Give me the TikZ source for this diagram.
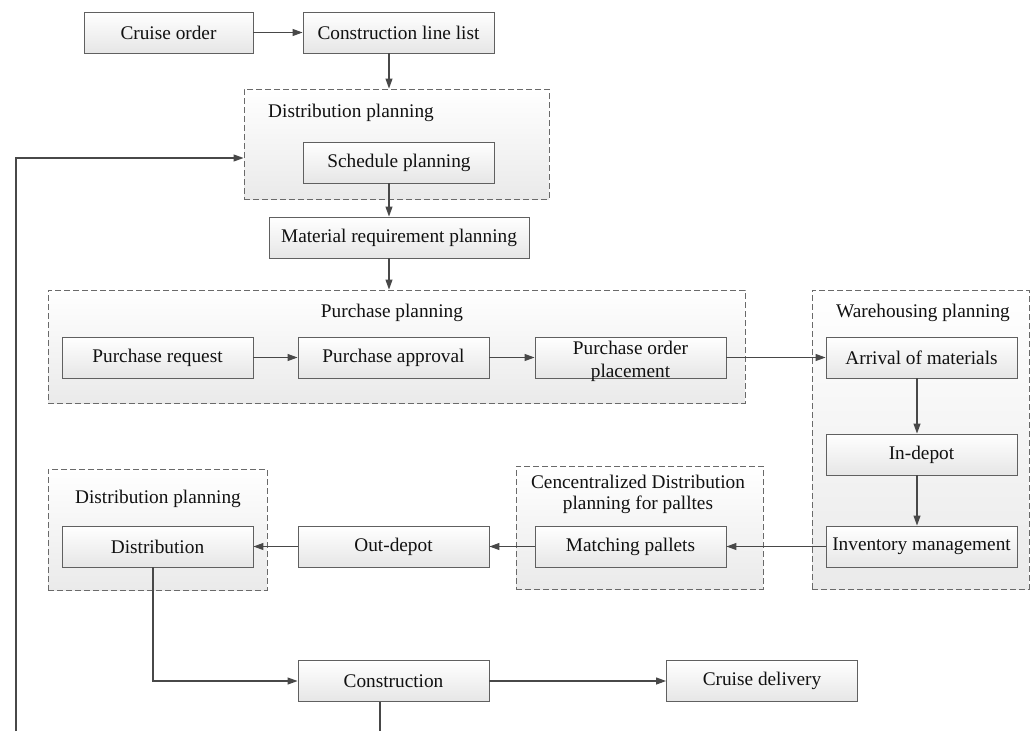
\documentclass[tikz,border=0pt]{standalone}
\usepackage{fontspec}
\setmainfont{Liberation Serif}
\usetikzlibrary{arrows.meta}
\definecolor{lnc}{HTML}{484848}
\definecolor{boxline}{HTML}{606060}
\definecolor{boxbot}{HTML}{E6E6E6}
\definecolor{grpline}{HTML}{6A6A6A}
\definecolor{grpbot}{HTML}{EAEAEA}
\definecolor{txt}{HTML}{111111}
\begin{document}
\begin{tikzpicture}[x=1pt,y=-1pt,
  every node/.style={font=\fontsize{19.3}{21}\selectfont, text=txt},
  stdbox/.style={draw=boxline, line width=0.9pt, top color=white, bottom color=boxbot,
    minimum width=191pt, minimum height=41pt, inner sep=0pt, align=center},
  grpbox/.style={draw=grpline, line width=0.9pt, dash pattern=on 6pt off 3pt,
    top color=white, bottom color=grpbot, inner sep=0pt},
  grptitle/.style={inner sep=0pt, align=center},
  conn/.style={draw=lnc, line width=1.1pt, -{Triangle[length=10pt,width=7pt]}},
  plain/.style={draw=lnc, line width=1.1pt}
]
\useasboundingbox (0,0) rectangle (1036,731);

% groups
\node[grpbox, minimum width=305pt, minimum height=110pt] (g1) at (396.5,144) {};
\node[grpbox, minimum width=697pt, minimum height=113pt] (g2) at (396.5,346.5) {};
\node[grpbox, minimum width=217pt, minimum height=299pt] (g3) at (920.5,439.5) {};
\node[grpbox, minimum width=247pt, minimum height=123pt] (g4) at (639.5,527.5) {};
\node[grpbox, minimum width=219pt, minimum height=121pt] (g5) at (157.5,529.5) {};

% group titles
\node[grptitle, anchor=west] (t1) at (268,113) {Distribution planning};
\node[grptitle] (t2) at (392,313) {Purchase planning};
\node[grptitle] (t3) at (923,313) {Warehousing planning};
\node[grptitle] (t4) at (638,494) {Cencentralized Distribution\\planning for palltes};
\node[grptitle] (t5) at (158,499) {Distribution planning};

% boxes
\node[stdbox, minimum width=169pt] (cruise) at (168.5,32.5) {Cruise order};
\node[stdbox] (cll) at (398.5,32.5) {Construction line list};
\node[stdbox] (sched) at (399,162.5) {Schedule planning};
\node[stdbox, minimum width=260pt] (mrp) at (399,237.5) {Material requirement planning};
\node[stdbox] (preq) at (157.5,357.5) {Purchase request};
\node[stdbox] (pappr) at (393.5,357.5) {Purchase approval};
\node[stdbox] (pop) at (630.5,357.5) {};
\node[inner sep=0pt, align=center, font=\fontsize{19.3}{23}\selectfont] (popt) at (630.5,361) {Purchase order\\placement};
\node[stdbox] (arr) at (921.5,357.5) {Arrival of materials};
\node[stdbox] (indepot) at (921.5,454.5) {In-depot};
\node[stdbox] (inv) at (921.5,546.5) {Inventory management};
\node[stdbox] (match) at (630.5,546.5) {Matching pallets};
\node[stdbox] (outd) at (393.5,546.5) {Out-depot};
\node[stdbox] (distr) at (157.5,546.5) {Distribution};
\node[stdbox] (constr) at (393.5,681) {Construction};
\node[stdbox] (deliv) at (762,681) {Cruise delivery};

% helper coordinates
\coordinate (cx) at (389,0);
\coordinate (cx2) at (917,0);
\coordinate (cx3) at (153,0);
\coordinate (cbot) at (380,731);
\coordinate (fb) at (16,731);

% connectors
\draw[conn] (cruise.east) -- (cll.west);
\draw[conn] (cll.south -| cx) -- (g1.north -| cx);
\draw[conn] (sched.south -| cx) -- (mrp.north -| cx);
\draw[conn] (mrp.south -| cx) -- (g2.north -| cx);
\draw[conn] (preq.east) -- (pappr.west);
\draw[conn] (pappr.east) -- (pop.west);
\draw[conn] (pop.east) -- (arr.west);
\draw[conn] (arr.south -| cx2) -- (indepot.north -| cx2);
\draw[conn] (indepot.south -| cx2) -- (inv.north -| cx2);
\draw[conn] (inv.west) -- (match.east);
\draw[conn] (match.west) -- (outd.east);
\draw[conn] (outd.west) -- (distr.east);
\draw[conn] (distr.south -| cx3) |- (constr.west);
\draw[conn] (constr.east) -- (deliv.west);
\draw[plain] (constr.south -| cbot) -- (cbot);
\draw[conn] (fb) |- ([yshift=-14pt]g1.west);
\end{tikzpicture}
\end{document}
